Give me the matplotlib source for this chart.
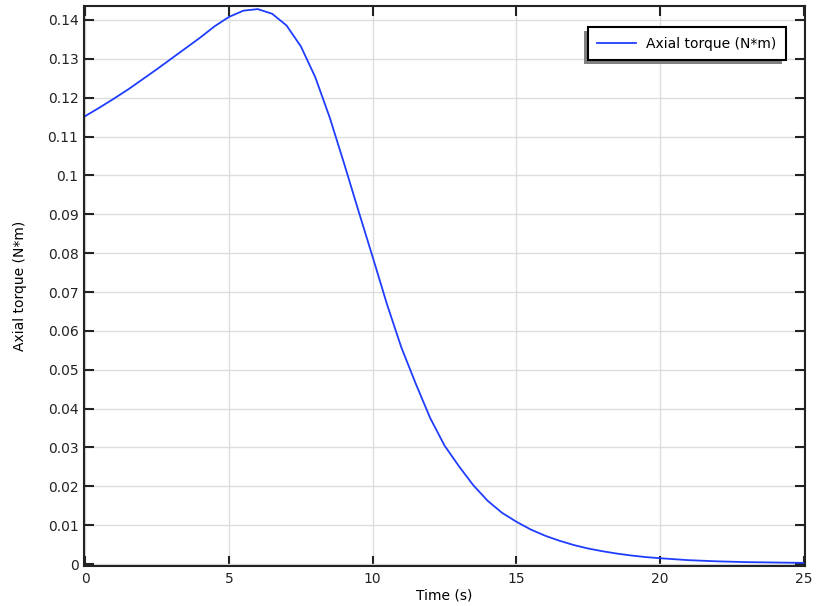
import numpy as np
import matplotlib
matplotlib.use("Agg")
import matplotlib.pyplot as plt
from matplotlib.patches import Rectangle
from matplotlib.transforms import IdentityTransform

time_s = [0, 0.5, 1.0, 1.5, 2.0, 2.5, 3.0, 3.5, 4.0, 4.5, 5.0, 5.5, 6.0, 6.5,
          7.0, 7.5, 8.0, 8.5, 9.0, 9.5, 10.0, 10.5, 11.0, 11.5, 12.0, 12.5,
          13.0, 13.5, 14.0, 14.5, 15.0, 15.5, 16.0, 16.5, 17.0, 17.5, 18.0,
          18.5, 19.0, 19.5, 20.0, 21.0, 22.0, 23.0, 24.0, 25.0]
torque = [0.1153, 0.1175, 0.1198, 0.1222, 0.1248, 0.1274, 0.1301, 0.1328,
          0.1355, 0.1384, 0.1408, 0.1424, 0.1428, 0.1416, 0.1386, 0.1332,
          0.1253, 0.1150, 0.1032, 0.0910, 0.0790, 0.0668, 0.0557, 0.0464,
          0.0376, 0.0305, 0.0252, 0.0203, 0.0163, 0.0132, 0.0109, 0.0089,
          0.0073, 0.0060, 0.0049, 0.0040, 0.0033, 0.0027, 0.0022, 0.0018,
          0.0015, 0.0010, 0.0007, 0.0005, 0.0004, 0.0003]

x_ticks = [0, 5, 10, 15, 20, 25]
y_ticks = [0, 0.01, 0.02, 0.03, 0.04, 0.05, 0.06, 0.07, 0.08, 0.09, 0.1,
           0.11, 0.12, 0.13, 0.14]
y_tick_labels = ["0", "0.01", "0.02", "0.03", "0.04", "0.05", "0.06", "0.07",
                 "0.08", "0.09", "0.1", "0.11", "0.12", "0.13", "0.14"]

fig = plt.figure(figsize=(8.16, 6.06), dpi=100)
ax = fig.add_axes([84 / 816, 1 - 566 / 606, (805 - 84) / 816, (566 - 6) / 606])

ax.plot(time_s, torque, color="#1f3dff", lw=1.3, label="Axial torque (N*m)")

ax.set_xlim(-0.05, 25.05)
ax.set_ylim(-0.0005, 0.1436)
ax.set_xticks(x_ticks)
ax.set_yticks(y_ticks)
ax.set_yticklabels(y_tick_labels)
ax.grid(True, color="#dddddd", lw=1)
ax.set_axisbelow(True)
ax.tick_params(direction="in", length=7, width=1.5, top=True, right=True,
               labelsize=10, colors="#222222", pad=4)
for sp in ax.spines.values():
    sp.set_linewidth(1.5)
    sp.set_color("#222222")

ax.set_xlabel("Time (s)", fontsize=10, labelpad=2)
ax.set_ylabel("Axial torque (N*m)", fontsize=10, labelpad=15)

leg = ax.legend(loc="upper right", bbox_to_anchor=(786 / 816, 1 - 27 / 606),
                bbox_transform=fig.transFigure, fancybox=False,
                edgecolor="black", framealpha=1, fontsize=10,
                handlelength=2.8, handletextpad=0.7, borderpad=0.7,
                borderaxespad=0)
leg.get_frame().set_linewidth(1.5)
leg.set_zorder(6)

# legend shadow, offset down and to the left
fig.canvas.draw()
bb = leg.get_window_extent()
shadow = Rectangle((bb.x0 - 4, bb.y0 - 4), bb.width, bb.height,
                   transform=IdentityTransform(), facecolor="#808080",
                   edgecolor="none", zorder=5.5, clip_on=False)
ax.add_artist(shadow)

fig.savefig("out.png", dpi=100)
